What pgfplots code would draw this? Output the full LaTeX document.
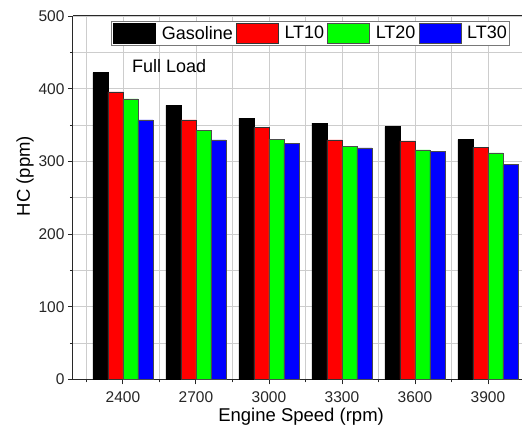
\documentclass[border=0pt]{standalone}
\usepackage{fontspec}
\setmainfont{Liberation Sans}
\usepackage{pgfplots}
\pgfplotsset{compat=1.18}
\definecolor{gridgray}{RGB}{205,205,205}
\definecolor{frame}{RGB}{120,120,120}
\definecolor{axisgray}{RGB}{40,40,40}
\definecolor{barred}{RGB}{255,0,0}
\definecolor{bargreen}{RGB}{0,255,0}
\definecolor{barblue}{RGB}{0,0,255}

\pgfplotsset{
  swatch/.style={legend image code/.code={\draw[##1,line width=0.6pt] (0pt,-10pt) rectangle (42pt,10pt);}},
}

\begin{document}
\begin{tikzpicture}
\begin{axis}[
  scale only axis, width=449pt, height=363.5pt,
  ybar=0pt, bar width=15pt,
  xmin=2195, xmax=4040, ymin=0, ymax=500,
  xtick={2400,2700,...,3900}, minor xtick={2250,2550,...,3950},
  ytick={0,100,...,500}, minor ytick={50,150,...,450},
  axis lines*=left,
  axis line style={-, axisgray, line width=1pt},
  tick align=outside,
  major tick length=5pt, minor tick length=3pt,
  tick style={axisgray, line width=0.8pt},
  grid=both,
  grid style={gridgray, line width=0.6pt},
  minor grid style={gridgray, line width=0.6pt},
  tick label style={font=\fontsize{15.5}{17}\selectfont, text=black!85},
  xticklabel style={yshift=-4pt},
  /pgf/number format/assume math mode=true,
  /pgf/number format/1000 sep={},
  xlabel={Engine Speed (rpm)},
  ylabel={HC (ppm)},
  xlabel style={font=\fontsize{18.5}{20}\selectfont, at={(axis description cs:0.508,0)}, anchor=base, yshift=-42.2pt},
  every axis y label/.style={font=\fontsize{18.5}{20}\selectfont, at={(axis description cs:-0.1069,0.56)}, anchor=center, rotate=90},
  legend columns=4,
  legend style={
    at={(rel axis cs:0.0846,0.987)}, anchor=north west,
    draw=frame, line width=0.6pt, inner sep=2pt,
    font=\fontsize{18}{20}\selectfont,
    nodes={inner sep=0pt},
    /tikz/every odd column/.append style={column sep=6pt},
    /tikz/every even column/.append style={column sep=3pt},
  },
]
\addplot[swatch, fill=black, draw=black, line width=0.5pt]
  coordinates {(2400,422) (2700,377) (3000,359.5) (3300,352.5) (3600,348) (3900,330)};
\addplot[swatch, fill=barred, draw=black!80, line width=0.5pt]
  coordinates {(2400,395.5) (2700,357) (3000,346.5) (3300,329.6) (3600,328.2) (3900,319.5)};
\addplot[swatch, fill=bargreen, draw=black!70, line width=0.5pt]
  coordinates {(2400,386) (2700,342.5) (3000,330.5) (3300,320.4) (3600,315.8) (3900,311.7)};
\addplot[swatch, fill=barblue, draw=black!70, line width=0.5pt]
  coordinates {(2400,357) (2700,329.5) (3000,325) (3300,318.6) (3600,314) (3900,295.6)};
\legend{Gasoline,LT10,LT20,LT30}

\draw[axisgray, line width=1pt] (rel axis cs:0,1) -- (rel axis cs:1,1);
\node[anchor=base west, font=\fontsize{18}{20}\selectfont] at (axis cs:2423,422) {Full Load};
\coordinate (bbSW) at (rel axis cs:0,0);
\coordinate (bbNE) at (rel axis cs:1,1);
\end{axis}
\pgfresetboundingbox
\path[use as bounding box] ([shift={(-73pt,-50.5pt)}]bbSW) rectangle ([shift={(0pt,16pt)}]bbNE);
\end{tikzpicture}
\end{document}
